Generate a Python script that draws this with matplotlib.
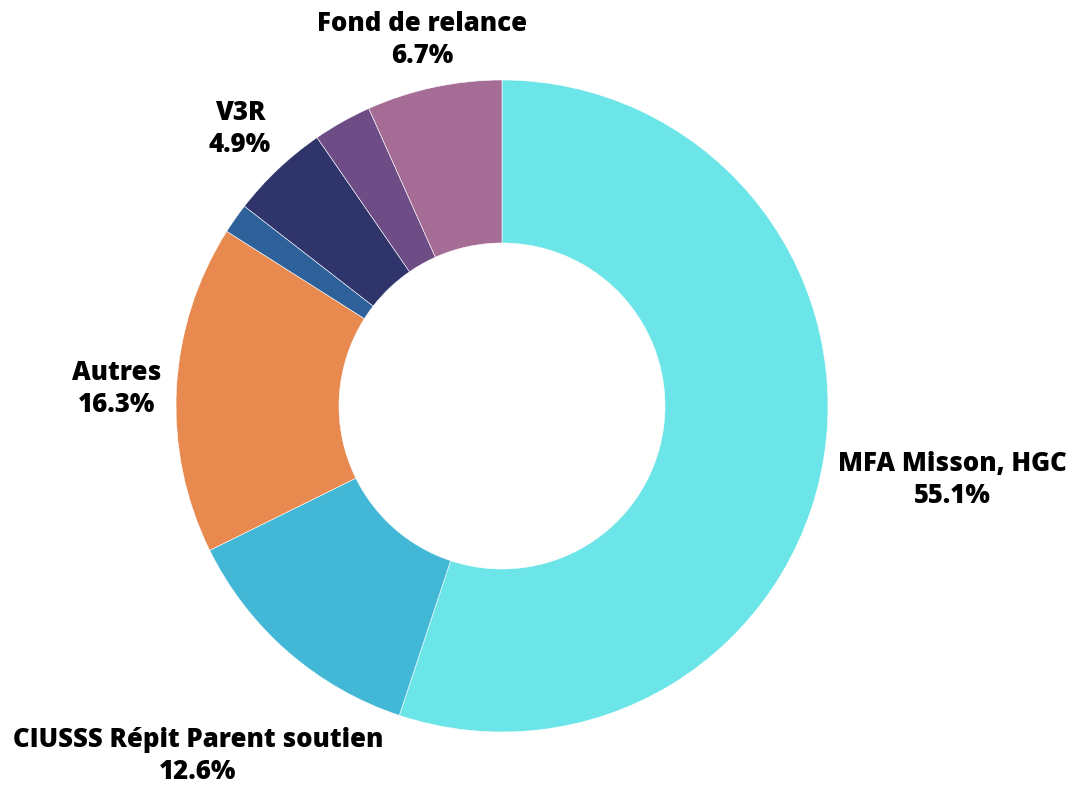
import matplotlib
matplotlib.use("Agg")
import matplotlib.pyplot as plt

labels = ["MFA Misson, HGC", "CIUSSS Répit Parent soutien", "Autres", "", "V3R", "", "Fond de relance"]
values = [55.1, 12.6, 16.3, 1.5, 4.9, 2.9, 6.7]
colors = ["#6be5e8", "#42b8d6", "#e88a4f", "#2e619a", "#2f346b", "#6e4c86", "#a56d96"]

# label centres in pixels (layout)
label_px = {
    "MFA Misson, HGC": (952, 480),
    "CIUSSS Répit Parent soutien": (198, 756),
    "Autres": (117, 389),
    "V3R": (240, 129),
    "Fond de relance": (422, 40),
}

W, H = 1077, 785
cx, cy, R = 502, 406, 326

fig = plt.figure(figsize=(W / 100, H / 100), dpi=100)
ax = fig.add_axes([0, 0, 1, 1])

ax.pie(values, colors=colors, startangle=90, counterclock=False, radius=1,
       wedgeprops=dict(width=0.5, edgecolor="white", linewidth=0.4))

ax.set_xlim(-cx / R, (W - cx) / R)
ax.set_ylim(-(H - cy) / R, cy / R)
ax.set_aspect("equal")
ax.axis("off")

for lab, val in zip(labels, values):
    if not lab:
        continue
    px, py = label_px[lab]
    ax.text((px - cx) / R, (cy - py) / R, f"{lab}\n{val:.1f}%", ha="center", va="center",
            fontsize=18.5, fontweight="heavy", family=["Open Sans", "DejaVu Sans"],
            linespacing=1.3, color="black")

fig.savefig("out.png", dpi=100)
